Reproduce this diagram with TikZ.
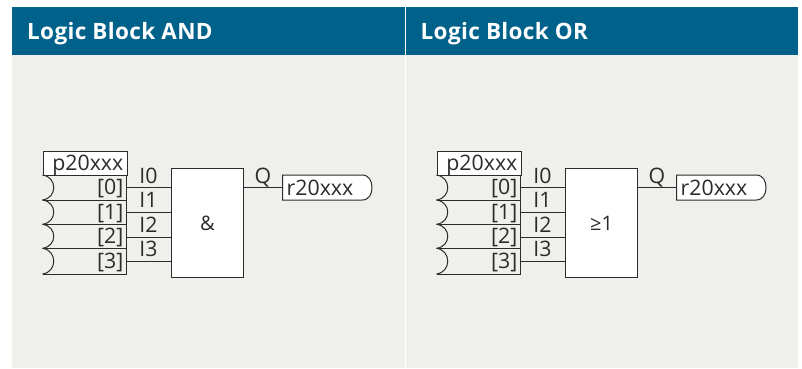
\documentclass[tikz,border=0pt]{standalone}
\usepackage{fontspec}
\setmainfont{Open Sans}
\newfontfamily\headfont[LetterSpace=1.5]{Open Sans Bold}
\usetikzlibrary{calc}
\definecolor{headblue}{HTML}{00628B}
\definecolor{panelbg}{HTML}{EFEFEB}
\definecolor{inkc}{HTML}{2B2B2B}
\tikzset{
  panel/.style={fill=panelbg,draw=none},
  header/.style={fill=headblue,draw=none},
  headtext/.style={text=white,anchor=base west,inner sep=0pt,font=\fontsize{22.5}{22.5}\headfont},
  wire/.style={draw=inkc,line width=1pt},
  boxed/.style={draw=inkc,line width=1pt,fill=white,inner sep=0pt},
  lab/.style={text=inkc,inner sep=0pt,font=\fontsize{21.3}{21.3}\selectfont},
}
\newcommand{\logicblock}[3]{%
\begin{scope}[shift={(#2,-0.5)}]
  \node[boxed,minimum width=83.5,minimum height=24.5,anchor=north west] (#1p) at (43,151) {};
  \node[lab,anchor=base east] (#1ptxt) at (123.5,170.5) {p20xxx};
  \coordinate (#1l0) at (42.5,175.5);
  \coordinate (#1l1) at (42.5,200.5);
  \coordinate (#1l2) at (42.5,224.8);
  \coordinate (#1l3) at (42.5,248.8);
  \coordinate (#1l4) at (42.5,274.5);
  \coordinate (#1r0) at (126.5,175.5);
  \coordinate (#1r1) at (126.5,200.5);
  \coordinate (#1r2) at (126.5,224.8);
  \coordinate (#1r3) at (126.5,248.8);
  \coordinate (#1r4) at (126.5,274.5);
  \foreach \k in {0,...,4} \draw[wire] (#1l\k) -- (#1r\k);
  \draw[wire] (#1r0) -- (#1r4);
  \foreach \k/\n in {0/1,1/2,2/3,3/4}
    \draw[wire] (#1l\k) .. controls ($(#1l\k)+(15,2)$) and ($(#1l\n)+(15,-2)$) .. (#1l\n);
  \node[lab,anchor=base east] (#1i0) at (123.5,195) {[0]};
  \node[lab,anchor=base east] (#1i1) at (123.5,220) {[1]};
  \node[lab,anchor=base east] (#1i2) at (123.5,244) {[2]};
  \node[lab,anchor=base east] (#1i3) at (123.5,268.5) {[3]};
  \node[boxed,minimum width=72,minimum height=109,anchor=north west] (#1g) at (171,168) {};
  \node[lab,font=\fontsize{20}{20}\selectfont] (#1gt) at (207.5,224) {#3};
  \coordinate (#1w0) at (126.5,188.2);
  \coordinate (#1w1) at (126.5,212.5);
  \coordinate (#1w2) at (126.5,238.2);
  \coordinate (#1w3) at (126.5,262.2);
  \foreach \k in {0,...,3} \draw[wire] (#1w\k) -- (#1w\k -| #1g.west);
  \node[lab,anchor=base] (#1n0) at (148.5,183.5) {I0};
  \node[lab,anchor=base] (#1n1) at (148.5,208.3) {I1};
  \node[lab,anchor=base] (#1n2) at (148.5,233.2) {I2};
  \node[lab,anchor=base] (#1n3) at (148.5,257.3) {I3};
  \coordinate (#1qa) at (243,188.2);
  \node[lab,anchor=base] (#1qt) at (263,183.5) {Q};
  \draw[wire,fill=white] (282.5,175.5) -- (362,175.5) .. controls (369,175.5) and (372,181.5) .. (372,188) .. controls (372,194.5) and (369,200.5) .. (362,200.5) -- (282.5,200.5) -- cycle;
  \node[lab,anchor=base west] (#1rt) at (286.5,195.5) {r20xxx};
  \coordinate (#1qb) at (282.5,188.2);
  \draw[wire] (#1qa) -- (#1qb);
\end{scope}}
\begin{document}
\begin{tikzpicture}[x=1pt,y=-1pt]
  \useasboundingbox (0,0) rectangle (802,368);
  \path[fill=white] (0,0) rectangle (802,368);
  \path[panel] (12,55) rectangle (404.5,368);
  \path[panel] (406,55) rectangle (798,368);
  \path[header] (12,6.5) rectangle (404.5,55);
  \path[header] (406,6.5) rectangle (798,55);
  \node[headtext] (hand) at (27,39) {Logic Block AND};
  \node[headtext] (hor) at (420.5,39) {Logic Block OR};
  \logicblock{a}{0}{\&}
  \logicblock{b}{394}{≥1}
\end{tikzpicture}
\end{document}
